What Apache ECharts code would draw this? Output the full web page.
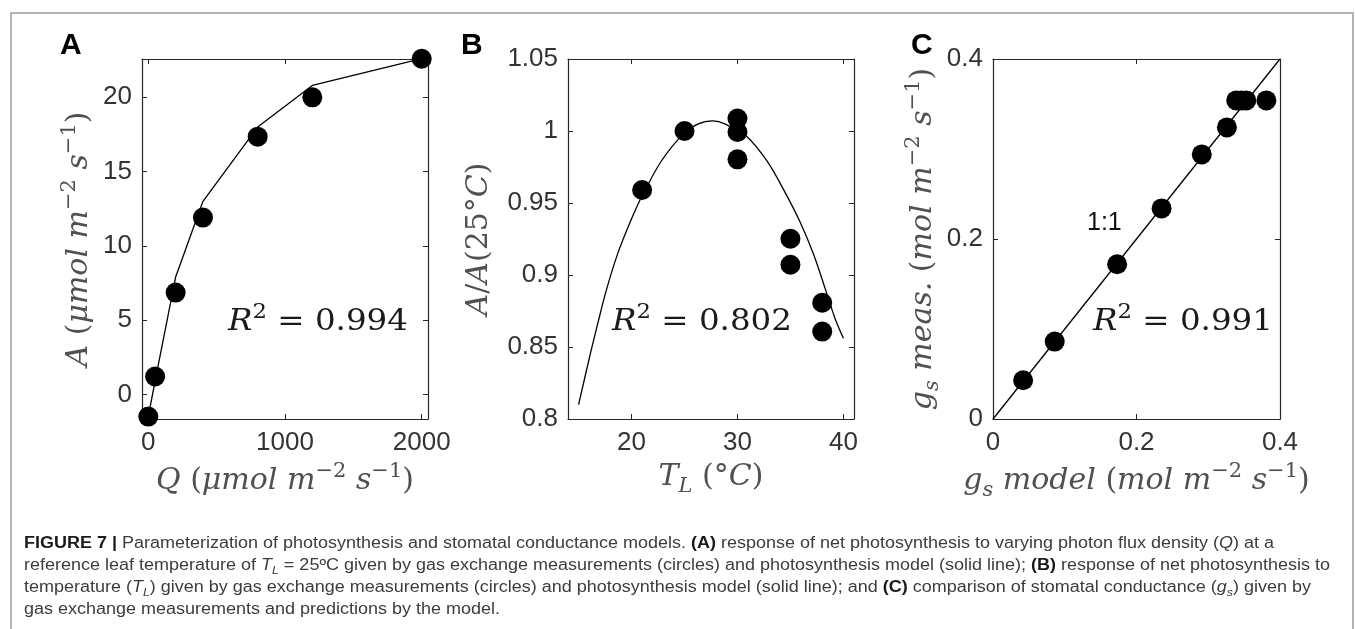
<!DOCTYPE html>
<html><head><meta charset="utf-8">
<script src="https://cdn.jsdelivr.net/npm/echarts@6/dist/echarts.min.js"></script>
<style>html,body{margin:0;padding:0;background:#fff}#chart{width:1355px;height:629px}</style>
</head><body><div id="chart"></div>
<script>
// ---------- Panel A : light response ----------
const qMeasured = [0, 50, 200, 400, 800, 1200, 2000];
const aMeasured = [-1.5, 1.2, 6.85, 11.9, 17.35, 20.0, 22.6];
const qModel = [0, 50, 200, 400, 800, 1200, 2000];
const aModel = [-1.5, 0.9, 7.9, 13.0, 18.0, 20.8, 22.6];
const qTicks = [0, 1000, 2000];
const aTicks = [0, 5, 10, 15, 20];
// ---------- Panel B : temperature response ----------
const tMeasured = [21, 25, 30, 30, 30, 35, 35, 38, 38];
const rMeasured = [0.959, 1.0, 1.0086, 0.9993, 0.9803, 0.9252, 0.9071, 0.8807, 0.8607];
const tModel = [15.0, 16.1, 16.8, 17.6, 18.7, 20.0, 21.0, 22.8, 24.9, 26.3, 27.7, 28.8, 30.9, 32.8, 34.3, 35.9, 37.2, 38.3, 39.2, 40.0];
const rModel = [0.810, 0.845, 0.866, 0.889, 0.915, 0.939, 0.955, 0.979, 0.998, 1.005, 1.007, 1.005, 0.996, 0.979, 0.960, 0.937, 0.914, 0.890, 0.870, 0.856];
const tTicks = [20, 30, 40];
const rTicks = [0.8, 0.85, 0.9, 0.95, 1, 1.05];
// ---------- Panel C : stomatal conductance ----------
const gsModel = [0.042, 0.086, 0.173, 0.235, 0.291, 0.326, 0.339, 0.346, 0.353, 0.381];
const gsMeas  = [0.043, 0.086, 0.172, 0.234, 0.294, 0.324, 0.354, 0.354, 0.354, 0.354];
const oneToOne = [0, 0.4];
const gsTicks = [0, 0.2, 0.4];
// ---------- Text ----------
const panelLetters = ['A', 'B', 'C'];
const r2Values = ['0.994', '0.802', '0.991'];
const captionLines = [
  [['FIGURE 7 |','b'],[' Parameterization of photosynthesis and stomatal conductance models. ','n'],['(A)','b'],[' response of net photosynthesis to varying photon flux density (','n'],['Q','i'],[') at a','n']],
  [['reference leaf temperature of ','n'],['T','i'],['L','sub'],[' = 25ºC given by gas exchange measurements (circles) and photosynthesis model (solid line); ','n'],['(B)','b'],[' response of net photosynthesis to','n']],
  [['temperature (','n'],['T','i'],['L','sub'],[') given by gas exchange measurements (circles) and photosynthesis model (solid line); and ','n'],['(C)','b'],[' comparison of stomatal conductance (','n'],['g','i'],['s','sub'],[') given by','n']],
  [['gas exchange measurements and predictions by the model.','n']]
];

const AX = '#262626';
const NAMEC = '#505050';
const SERIF = 'DejaVu Serif';
const SANS = 'Liberation Sans';

const nameStyle = {
  fontFamily: SERIF, fontSize: 30, color: NAMEC,
  rich: {
    i:   {fontFamily: SERIF, fontStyle: 'italic', fontSize: 30, color: NAMEC, lineHeight: 40, verticalAlign: 'middle'},
    n:   {fontFamily: SERIF, fontStyle: 'normal', fontSize: 30, color: NAMEC, lineHeight: 40, verticalAlign: 'middle'},
    sup: {fontFamily: SERIF, fontStyle: 'normal', fontSize: 21, color: NAMEC, lineHeight: 24, verticalAlign: 'top'},
    sub: {fontFamily: SERIF, fontStyle: 'italic', fontSize: 21, color: NAMEC, lineHeight: 24, verticalAlign: 'bottom'}
  }
};

const grids = [
  {left: 142, top: 59, width: 286, height: 360},
  {left: 568, top: 59, width: 286, height: 360},
  {left: 993, top: 59, width: 287, height: 360}
];

function labelCfg(ticks, show) {
  return {show: show, customValues: ticks, margin: 10, fontFamily: SANS, fontSize: 26, color: '#333',
          formatter: v => String(v)};
}
function xAxisPair(g, min, max, ticks, name, gap) {
  const base = {type: 'value', gridIndex: g, min: min, max: max, splitLine: {show: false},
    axisLine: {show: true, onZero: false, lineStyle: {color: AX, width: 1.2}},
    axisTick: {show: true, inside: true, length: 5, customValues: ticks, lineStyle: {color: AX, width: 1}}};
  return [
    Object.assign({}, base, {position: 'bottom', name: name, nameLocation: 'middle', nameGap: gap,
      nameTextStyle: nameStyle, axisLabel: Object.assign(labelCfg(ticks, true), {margin: 11})}),
    Object.assign({}, base, {position: 'top', axisLabel: labelCfg(ticks, false)})
  ];
}
function yAxisPair(g, min, max, ticks, name, gap) {
  const base = {type: 'value', gridIndex: g, min: min, max: max, splitLine: {show: false},
    axisLine: {show: true, onZero: false, lineStyle: {color: AX, width: 1.2}},
    axisTick: {show: true, inside: true, length: 5, customValues: ticks, lineStyle: {color: AX, width: 1}}};
  return [
    Object.assign({}, base, {position: 'left', name: name, nameLocation: 'middle', nameGap: gap, nameRotate: 90,
      nameTextStyle: nameStyle, axisLabel: labelCfg(ticks, true)}),
    Object.assign({}, base, {position: 'right', axisLabel: labelCfg(ticks, false)})
  ];
}

const unitStr = '{n|(}{i|μmol m}{sup|−2}{i| s}{sup|−1}{n|)}';
const unitStr2 = '{n|(}{i|mol m}{sup|−2}{i| s}{sup|−1}{n|)}';
const xAxes = [].concat(
  xAxisPair(0, -46, 2046, qTicks, '{i|Q}{n| }' + unitStr, 38),
  xAxisPair(1, 14, 41, tTicks, '{i|T}{sub|L}{n| (°}{i|C}{n|)}', 38),
  xAxisPair(2, 0, 0.4, gsTicks, '{i|g}{sub|s}{i| model }' + unitStr2, 38)
);
const yAxes = [].concat(
  yAxisPair(0, -1.66, 22.58, aTicks, '{i|A}{n| }' + unitStr, 43),
  yAxisPair(1, 0.8, 1.05, rTicks, '{i|A}{n|/}{i|A}{n|(25°}{i|C}{n|)}', 69),
  yAxisPair(2, 0, 0.4, gsTicks, '{i|g}{sub|s}{i| meas. }' + unitStr2, 45)
);

const lineStyle = {color: '#000', width: 1.3};
const dot = {color: '#000', opacity: 1};
const series = [
  {type: 'line', xAxisIndex: 0, yAxisIndex: 0, data: qModel.map((q, i) => [q, aModel[i]]), symbol: 'none', lineStyle: lineStyle, z: 2, silent: true, clip: false},
  {type: 'scatter', xAxisIndex: 0, yAxisIndex: 0, data: qMeasured.map((q, i) => [q, aMeasured[i]]), symbolSize: 20, itemStyle: dot, z: 3, clip: false},
  {type: 'line', xAxisIndex: 2, yAxisIndex: 2, data: tModel.map((t, i) => [t, rModel[i]]), symbol: 'none', smooth: 0.3, lineStyle: lineStyle, z: 2, silent: true, clip: false},
  {type: 'scatter', xAxisIndex: 2, yAxisIndex: 2, data: tMeasured.map((t, i) => [t, rMeasured[i]]), symbolSize: 20, itemStyle: dot, z: 3, clip: false},
  {type: 'line', xAxisIndex: 4, yAxisIndex: 4, data: oneToOne.map(v => [v, v]), symbol: 'none', lineStyle: lineStyle, z: 2, silent: true},
  {type: 'scatter', xAxisIndex: 4, yAxisIndex: 4, data: gsModel.map((g, i) => [g, gsMeas[i]]), symbolSize: 20, itemStyle: dot, z: 3, clip: false}
];

// ---------- text measuring helpers for graphic texts ----------
const mctx = document.createElement('canvas').getContext('2d');
function measureParts(parts, rich) {
  let w = 0;
  parts.forEach(([t, k]) => {
    const s = rich[k];
    mctx.font = `${s.fontStyle || 'normal'} ${s.fontWeight || 'normal'} ${s.fontSize}px "${s.fontFamily}"`;
    w += mctx.measureText(t).width;
  });
  return w;
}
function richText(parts) { return parts.map(([t, k]) => `{${k}|${t}}`).join(''); }
function textEl(parts, rich, x, y, scaleX) {
  return {type: 'text', x: x, y: y, scaleX: scaleX, scaleY: 1, z: 10,
    style: {text: richText(parts), rich: rich, align: 'left', verticalAlign: 'middle',
            textAlign: 'left', textVerticalAlign: 'middle', fill: '#000'}};
}

const r2Rich = {
  i:   {fontFamily: SERIF, fontStyle: 'italic', fontSize: 30, fill: '#1a1a1a', lineHeight: 40, verticalAlign: 'middle'},
  n:   {fontFamily: SERIF, fontSize: 30, fill: '#1a1a1a', lineHeight: 40, verticalAlign: 'middle'},
  sup: {fontFamily: SERIF, fontSize: 21, fill: '#1a1a1a', lineHeight: 26, verticalAlign: 'top'}
};
const r2Pos = [[228, 322], [612, 322], [1093, 322]];
const capRich = {
  n:   {fontFamily: SANS, fontSize: 16, fill: '#3c3c3c', lineHeight: 20, verticalAlign: 'middle'},
  b:   {fontFamily: SANS, fontSize: 16, fontWeight: 'bold', fill: '#1a1a1a', lineHeight: 20, verticalAlign: 'middle'},
  i:   {fontFamily: SANS, fontSize: 16, fontStyle: 'italic', fill: '#3c3c3c', lineHeight: 20, verticalAlign: 'middle'},
  sub: {fontFamily: SANS, fontSize: 11, fontStyle: 'italic', fill: '#3c3c3c', lineHeight: 10, verticalAlign: 'bottom'}
};

const graphics = [
  {type: 'rect', shape: {x: 11, y: 13, width: 1342, height: 700}, style: {fill: 'none', stroke: '#b3b3b3', lineWidth: 2}, z: 0, silent: true}
];
const letterX = [60, 461, 911];
panelLetters.forEach((L, i) => {
  graphics.push({type: 'text', x: letterX[i], y: 46, z: 10,
    style: {text: L, fontFamily: SANS, fontWeight: 'bold', fontSize: 30, fill: '#000',
            align: 'left', verticalAlign: 'middle', textAlign: 'left', textVerticalAlign: 'middle'}});
});
r2Values.forEach((v, i) => {
  const parts = [['R', 'i'], ['2', 'sup'], [' = ' + v, 'n']];
  const sx = 180 / measureParts(parts, r2Rich);
  graphics.push(textEl(parts, r2Rich, r2Pos[i][0], r2Pos[i][1], sx));
});
graphics.push({type: 'text', x: 1087, y: 223, z: 10,
  style: {text: '1:1', fontFamily: SANS, fontSize: 25, fill: '#111', align: 'left', verticalAlign: 'middle',
          textAlign: 'left', textVerticalAlign: 'middle'}});
const capScale = 1250 / measureParts(captionLines[0], capRich);
const capY = [544, 566, 588, 610];
captionLines.forEach((parts, i) => graphics.push(textEl(parts, capRich, 24, capY[i], capScale)));

const chart = echarts.init(document.getElementById('chart'), null, {renderer: 'canvas'});
chart.setOption({
  animation: false,
  backgroundColor: '#fff',
  grid: grids,
  xAxis: xAxes,
  yAxis: yAxes,
  series: series,
  graphic: graphics
});
</script></body></html>
